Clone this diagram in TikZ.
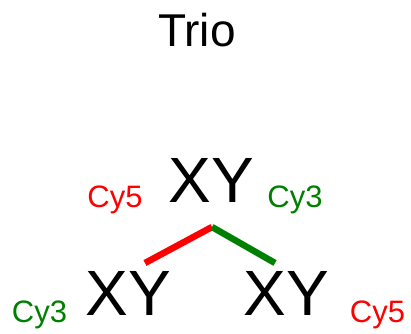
\documentclass[tikz,border=0pt]{standalone}
\usepackage{fontspec}
\setmainfont{Liberation Sans}
\definecolor{cyred}{RGB}{255,0,0}
\definecolor{cygreen}{RGB}{0,128,0}
\begin{document}
\begin{tikzpicture}[x=1pt, y=-1pt]
        \useasboundingbox (0,0) rectangle (411,333);
        % Title
        \node[anchor=base, inner sep=0] (title) at (197,46) {\fontsize{46}{46}\selectfont Trio};

        % Samples
        \foreach \name/\x/\y in {top/211/202, left/128/315, right/286/315} {
            \node[anchor=base, inner sep=0] (\name) at (\x,\y) {\fontsize{64}{64}\selectfont XY};
        }

        % Dye labels
        \foreach \name/\x/\y/\lab/\col in {topL/115/207/Cy5/cyred, topR/295/207/Cy3/cygreen, botL/39.5/322/Cy3/cygreen, botR/377.5/322/Cy5/cyred} {
            \node[anchor=base, inner sep=0, text=\col] (\name) at (\x,\y) {\fontsize{31}{31}\selectfont \lab};
        }

        % Hybridisation links
        \coordinate (apex) at (212,227);
        \coordinate (endL) at (145,263);
        \coordinate (endR) at (275,263);
        \draw[line width=6.5pt, cyred] (apex) -- (endL);
        \draw[line width=6.5pt, cygreen] (apex) -- (endR);
    \end{tikzpicture}
\end{document}
